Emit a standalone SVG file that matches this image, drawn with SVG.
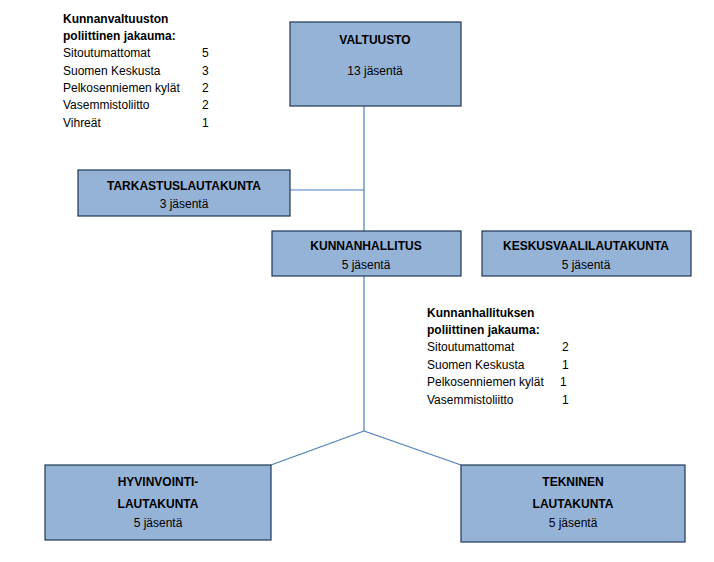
<svg xmlns="http://www.w3.org/2000/svg" width="714" height="562" viewBox="0 0 714 562">
<style>
text{font-family:"Liberation Sans",Arial,sans-serif;font-size:12px;fill:#000}
.b{font-weight:bold}
.n rect{fill:#95b3d7;stroke:#1f3654;stroke-width:1.2}
.n text{text-anchor:middle}
.c line{stroke:#4a7ebb;stroke-width:1.2}
</style>
<rect width="714" height="562" fill="#fff"/>
<g class="c">
<line x1="364" y1="106" x2="364" y2="231"/>
<line x1="290" y1="190" x2="364" y2="190"/>
<line x1="364" y1="276" x2="364" y2="431"/>
<line x1="364" y1="431" x2="271" y2="465"/>
<line x1="364" y1="431" x2="461" y2="465"/>
</g>
<g id="valtuusto" class="n"><rect x="290" y="22" width="171" height="84"/>
<text x="375" y="44" class="b">VALTUUSTO</text><text x="375" y="75">13 jäsentä</text></g>
<g id="tarkastus" class="n"><rect x="78" y="170" width="212" height="46"/>
<text x="184" y="190" class="b">TARKASTUSLAUTAKUNTA</text><text x="184" y="208">3 jäsentä</text></g>
<g id="kunnanhallitus" class="n"><rect x="272" y="231" width="189" height="45"/>
<text x="366" y="250" class="b">KUNNANHALLITUS</text><text x="366" y="269">5 jäsentä</text></g>
<g id="keskusvaali" class="n"><rect x="482" y="231" width="209" height="45"/>
<text x="586" y="250" class="b">KESKUSVAALILAUTAKUNTA</text><text x="586" y="269">5 jäsentä</text></g>
<g id="hyvinvointi" class="n"><rect x="45" y="465" width="226" height="75"/>
<text x="158" y="486" class="b">HYVINVOINTI-</text><text x="158" y="508" class="b">LAUTAKUNTA</text><text x="158" y="527">5 jäsentä</text></g>
<g id="tekninen" class="n"><rect x="461" y="465" width="224" height="77"/>
<text x="573" y="486" class="b">TEKNINEN</text><text x="573" y="508" class="b">LAUTAKUNTA</text><text x="573" y="527">5 jäsentä</text></g>
<g id="valtuusto-jakauma">
<text x="63" y="23" class="b">Kunnanvaltuuston</text><text x="63" y="40" class="b">poliittinen jakauma:</text>
<text x="63" y="57">Sitoutumattomat</text><text x="202" y="57">5</text>
<text x="63" y="75">Suomen Keskusta</text><text x="202" y="75">3</text>
<text x="63" y="92">Pelkosenniemen kylät</text><text x="202" y="92">2</text>
<text x="63" y="109">Vasemmistoliitto</text><text x="202" y="109">2</text>
<text x="63" y="127">Vihreät</text><text x="202" y="127">1</text>
</g>
<g id="hallitus-jakauma">
<text x="427" y="317" class="b">Kunnanhallituksen</text><text x="427" y="334" class="b">poliittinen jakauma:</text>
<text x="427" y="351">Sitoutumattomat</text><text x="562" y="351">2</text>
<text x="427" y="369">Suomen  Keskusta</text><text x="562" y="369">1</text>
<text x="427" y="386">Pelkosenniemen kylät</text><text x="560" y="386">1</text>
<text x="427" y="404">Vasemmistoliitto</text><text x="562" y="404">1</text>
</g>
</svg>
